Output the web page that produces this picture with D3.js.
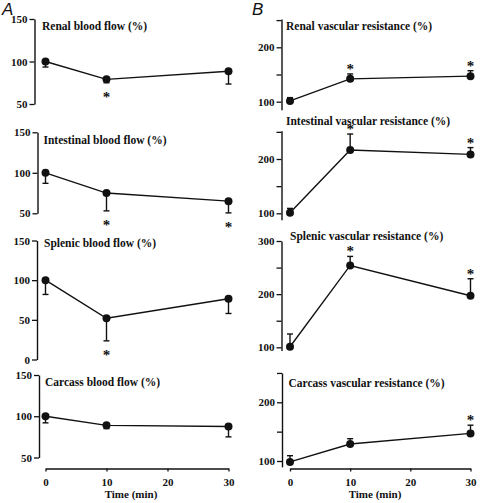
<!DOCTYPE html>
<html><head><meta charset="utf-8">
<script src="https://cdn.jsdelivr.net/npm/d3@7"></script>
<style>
body{margin:0;background:#fff;}
svg{display:block;}
text{font-family:"Liberation Serif","Times New Roman",serif;font-weight:bold;fill:#111;}
.panelLetter{font-family:"Liberation Sans",Arial,sans-serif;font-style:italic;font-weight:normal;}
</style>
</head><body>
<script>
// ---------------- DATA ----------------
const times = [0, 10, 30];
const xTickValues = [0, 10, 20, 30];
const xLabel = "Time (min)";

// Panel A: blood flow (% of baseline), SEM drawn downward
const renalFlow = [100, 79, 88.5];
const renalFlowErr = [6.5, 4, 15];
const renalFlowSig = [0, 1, 0];

const intestinalFlow = [100, 75, 65];
const intestinalFlowErr = [13, 22, 14.5];
const intestinalFlowSig = [0, 1, 1];

const splenicFlow = [100, 52, 76.5];
const splenicFlowErr = [18, 28.5, 18.5];
const splenicFlowSig = [0, 1, 0];

const carcassFlow = [100, 89, 87.5];
const carcassFlowErr = [8, 4, 12.5];
const carcassFlowSig = [0, 0, 0];

// Panel B: vascular resistance (% of baseline), SEM drawn upward
const renalRes = [101.5, 142, 147];
const renalResErr = [6, 9, 10];
const renalResSig = [0, 1, 1];

const intestinalRes = [101, 216.5, 208.5];
const intestinalResErr = [8, 29.5, 12.5];
const intestinalResSig = [0, 1, 1];

const splenicRes = [101, 254, 197];
const splenicResErr = [24, 17, 32];
const splenicResSig = [0, 1, 1];

const carcassRes = [98.5, 129, 147];
const carcassResErr = [10.5, 9, 14];
const carcassResSig = [0, 0, 1];

const titles = {
  renalFlow: "Renal blood flow (%)",
  intestinalFlow: "Intestinal blood flow (%)",
  splenicFlow: "Splenic blood flow (%)",
  carcassFlow: "Carcass blood flow (%)",
  renalRes: "Renal vascular resistance (%)",
  intestinalRes: "Intestinal vascular resistance (%)",
  splenicRes: "Splenic vascular resistance (%)",
  carcassRes: "Carcass vascular resistance (%)"
};

const flowTicks = [50, 100, 150];
const splenicFlowTicks = [0, 50, 100, 150];
const resTicks = [100, 150, 200, 250];
const resLabels = [100, 200];
const splenicResTicks = [100, 150, 200, 250, 300];
const splenicResLabels = [100, 200, 300];

// ---------------- LAYOUT ----------------
const W = 497, H = 503;
const svg = d3.select("body").append("svg").attr("width", W).attr("height", H);

const xLeft = d3.scaleLinear().domain([0, 30]).range([45.5, 228.5]);
const xRight = d3.scaleLinear().domain([0, 30]).range([290, 470.5]);

const panels = [
  {title: titles.renalFlow, v: renalFlow, e: renalFlowErr, s: renalFlowSig, dir: -1, x: xLeft, axisX: 34.5,
   dom: [50, 150], rng: [104, 19], axisDom: [50, 150], ticks: flowTicks, labels: flowTicks, tx: 42, ty: 30},
  {title: titles.intestinalFlow, v: intestinalFlow, e: intestinalFlowErr, s: intestinalFlowSig, dir: -1, x: xLeft, axisX: 37.5,
   dom: [50, 150], rng: [213.3, 132.3], axisDom: [50, 150], ticks: flowTicks, labels: flowTicks, tx: 43.5, ty: 144},
  {title: titles.splenicFlow, v: splenicFlow, e: splenicFlowErr, s: splenicFlowSig, dir: -1, x: xLeft, axisX: 37,
   dom: [0, 150], rng: [359.5, 240.5], axisDom: [0, 150], ticks: splenicFlowTicks, labels: splenicFlowTicks, tx: 44, ty: 247},
  {title: titles.carcassFlow, v: carcassFlow, e: carcassFlowErr, s: carcassFlowSig, dir: -1, x: xLeft, axisX: 39,
   dom: [50, 150], rng: [457.5, 375], axisDom: [50, 150], ticks: flowTicks, labels: flowTicks, tx: 45, ty: 386},
  {title: titles.renalRes, v: renalRes, e: renalResErr, s: renalResSig, dir: 1, x: xRight, axisX: 281.5,
   dom: [100, 200], rng: [101.7, 47.3], axisDom: [85, 252], ticks: resTicks, labels: resLabels, tx: 286, ty: 30},
  {title: titles.intestinalRes, v: intestinalRes, e: intestinalResErr, s: intestinalResSig, dir: 1, x: xRight, axisX: 281.5,
   dom: [100, 200], rng: [213.3, 159], axisDom: [88, 252], ticks: resTicks, labels: resLabels, tx: 286, ty: 125},
  {title: titles.splenicRes, v: splenicRes, e: splenicResErr, s: splenicResSig, dir: 1, x: xRight, axisX: 281.5,
   dom: [100, 300], rng: [347.3, 241], axisDom: [94, 300], ticks: splenicResTicks, labels: splenicResLabels, tx: 290, ty: 240},
  {title: titles.carcassRes, v: carcassRes, e: carcassResErr, s: carcassResSig, dir: 1, x: xRight, axisX: 282,
   dom: [100, 200], rng: [461, 402.3], axisDom: [90, 250], ticks: resTicks, labels: resLabels, tx: 288.5, ty: 387}
];

const ink = "#111";
panels.forEach(p => {
  const y = d3.scaleLinear().domain(p.dom).range(p.rng);
  const ya = d3.scaleLinear().domain(p.axisDom).range([y(p.axisDom[0]), y(p.axisDom[1])]);
  const g = svg.append("g");

  // y axis
  const ax = g.append("g").attr("transform", `translate(${p.axisX},0)`)
    .call(d3.axisLeft(ya).tickValues(p.ticks).tickSize(5).tickSizeOuter(0).tickPadding(2)
      .tickFormat(d => p.labels.includes(d) ? d : ""));
  ax.select(".domain").attr("stroke", ink).attr("stroke-width", 1.4);
  ax.selectAll(".tick line").attr("stroke", ink).attr("stroke-width", 1.3);
  ax.selectAll(".tick text").attr("font-size", 11).attr("font-family", null).attr("fill", ink);

  // title
  g.append("text").attr("x", p.tx).attr("y", p.ty).attr("font-size", 11.5).text(p.title);

  const pts = times.map((t, i) => ({t, v: p.v[i], e: p.e[i], s: p.s[i]}));

  // error bars
  pts.forEach(d => {
    const y0 = y(d.v), y1 = y(d.v + p.dir * d.e), cx = p.x(d.t);
    g.append("line").attr("x1", cx).attr("x2", cx).attr("y1", y0).attr("y2", y1)
      .attr("stroke", ink).attr("stroke-width", 1.4);
    g.append("line").attr("x1", cx - 3).attr("x2", cx + 3).attr("y1", y1).attr("y2", y1)
      .attr("stroke", ink).attr("stroke-width", 1.4);
    if (d.s) {
      const cy = p.dir < 0 ? y1 + 12 : y1 - 7;
      g.append("text").attr("x", cx).attr("y", cy + 7).attr("text-anchor", "middle")
        .attr("font-size", 15).attr("font-weight", "normal").text("*");
    }
  });

  // line
  g.append("path").datum(pts)
    .attr("d", d3.line().x(d => p.x(d.t)).y(d => y(d.v)))
    .attr("fill", "none").attr("stroke", ink).attr("stroke-width", 1.4);

  // markers
  g.selectAll("circle").data(pts).join("circle")
    .attr("cx", d => p.x(d.t)).attr("cy", d => y(d.v)).attr("r", 4).attr("fill", ink);
});

// x axes (bottom panels only)
[[xLeft, 131], [xRight, 375]].forEach(([xs, lx]) => {
  const ax = svg.append("g").attr("transform", "translate(0,468.5)")
    .call(d3.axisBottom(xs).tickValues(xTickValues).tickSize(3).tickSizeOuter(0).tickPadding(7));
  ax.select(".domain").attr("stroke", ink).attr("stroke-width", 1.4);
  ax.selectAll(".tick line").attr("stroke", ink).attr("stroke-width", 1.3);
  ax.selectAll(".tick text").attr("font-size", 11).attr("font-family", null).attr("fill", ink);
  svg.append("text").attr("x", lx).attr("y", 498).attr("text-anchor", "middle")
    .attr("font-size", 11).text(xLabel);
});

// panel letters
svg.append("text").attr("class", "panelLetter").attr("x", 2).attr("y", 15).attr("font-size", 17).text("A");
svg.append("text").attr("class", "panelLetter").attr("x", 252).attr("y", 15).attr("font-size", 17).text("B");
</script>
</body></html>
